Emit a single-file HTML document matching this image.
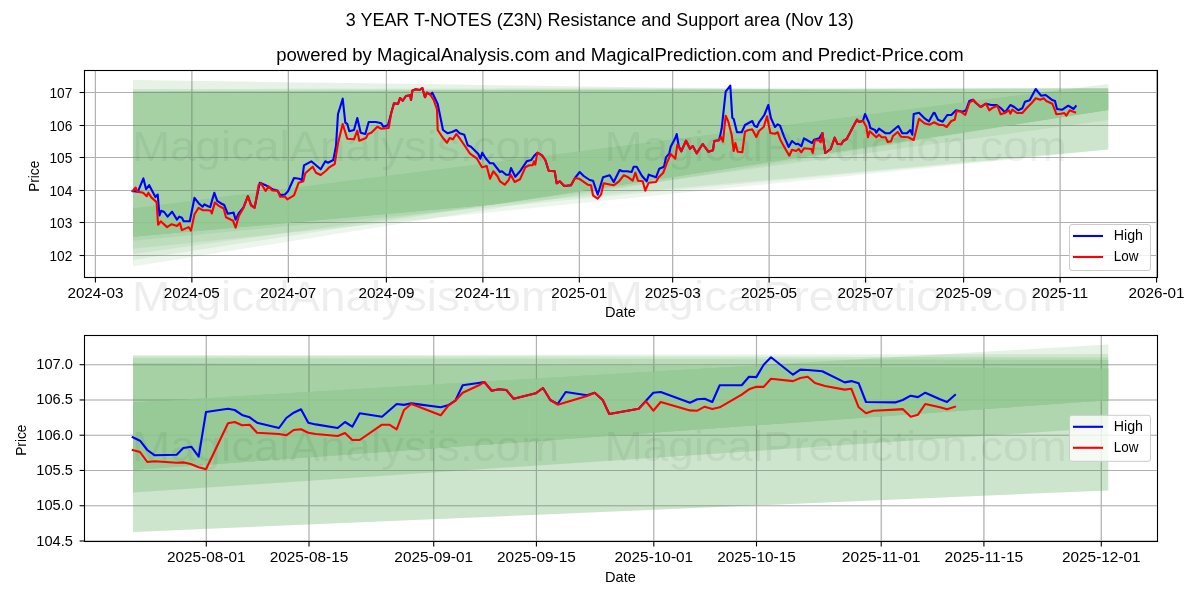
<!DOCTYPE html><html><head><meta charset="utf-8"><style>html,body{margin:0;padding:0;background:#fff;width:1200px;height:600px;overflow:hidden}svg{display:block;will-change:transform}text{font-family:"Liberation Sans",sans-serif;fill:#000}</style></head><body>
<svg width="1200" height="600" viewBox="0 0 1200 600">
<rect width="1200" height="600" fill="#fff"/>
<text x="345.80" y="25.80" font-size="18.3" text-anchor="start" textLength="508.0" lengthAdjust="spacingAndGlyphs">3 YEAR T-NOTES (Z3N) Resistance and Support area (Nov 13)</text>
<text x="276.25" y="61.25" font-size="18.3" text-anchor="start" textLength="687.5" lengthAdjust="spacingAndGlyphs">powered by MagicalAnalysis.com and MagicalPrediction.com and Predict-Price.com</text>
<clipPath id="ct"><rect x="84.5" y="70.5" width="1073.0" height="207.0"/></clipPath>
<g clip-path="url(#ct)">
<line x1="84.5" x2="1157.5" y1="255.5" y2="255.5" stroke="#b0b0b0" stroke-width="1.1"/>
<line x1="84.5" x2="1157.5" y1="222.5" y2="222.5" stroke="#b0b0b0" stroke-width="1.1"/>
<line x1="84.5" x2="1157.5" y1="190.5" y2="190.5" stroke="#b0b0b0" stroke-width="1.1"/>
<line x1="84.5" x2="1157.5" y1="157.5" y2="157.5" stroke="#b0b0b0" stroke-width="1.1"/>
<line x1="84.5" x2="1157.5" y1="125.5" y2="125.5" stroke="#b0b0b0" stroke-width="1.1"/>
<line x1="84.5" x2="1157.5" y1="92.5" y2="92.5" stroke="#b0b0b0" stroke-width="1.1"/>
<line x1="95.40" x2="95.40" y1="70.5" y2="277.5" stroke="#b0b0b0" stroke-width="1.1"/>
<line x1="191.87" x2="191.87" y1="70.5" y2="277.5" stroke="#b0b0b0" stroke-width="1.1"/>
<line x1="288.34" x2="288.34" y1="70.5" y2="277.5" stroke="#b0b0b0" stroke-width="1.1"/>
<line x1="386.40" x2="386.40" y1="70.5" y2="277.5" stroke="#b0b0b0" stroke-width="1.1"/>
<line x1="482.87" x2="482.87" y1="70.5" y2="277.5" stroke="#b0b0b0" stroke-width="1.1"/>
<line x1="579.34" x2="579.34" y1="70.5" y2="277.5" stroke="#b0b0b0" stroke-width="1.1"/>
<line x1="672.65" x2="672.65" y1="70.5" y2="277.5" stroke="#b0b0b0" stroke-width="1.1"/>
<line x1="769.12" x2="769.12" y1="70.5" y2="277.5" stroke="#b0b0b0" stroke-width="1.1"/>
<line x1="865.59" x2="865.59" y1="70.5" y2="277.5" stroke="#b0b0b0" stroke-width="1.1"/>
<line x1="963.64" x2="963.64" y1="70.5" y2="277.5" stroke="#b0b0b0" stroke-width="1.1"/>
<line x1="1060.12" x2="1060.12" y1="70.5" y2="277.5" stroke="#b0b0b0" stroke-width="1.1"/>
<line x1="1156.59" x2="1156.59" y1="70.5" y2="277.5" stroke="#b0b0b0" stroke-width="1.1"/>
<polygon points="133.0,80.00 281.5,82.13 349.9,83.11 436.0,84.35 436.1,84.35 453.1,84.60 493.5,85.18 494.9,85.19 498.7,85.25 518.3,85.53 552.4,86.02 674.8,87.78 1108.3,94.00 1108.3,110.00 674.8,176.67 552.4,195.50 518.3,200.74 498.7,203.75 494.9,204.28 493.5,204.47 453.1,208.08 436.1,209.60 436.0,209.61 349.9,217.30 281.5,223.42 133.0,236.70" fill="#008000" fill-opacity="0.1"/>
<polygon points="133.0,89.00 281.5,88.85 349.9,88.78 436.0,88.69 436.1,88.69 453.1,88.67 493.5,88.63 494.9,88.63 498.7,88.62 518.3,88.60 552.4,88.57 674.8,88.44 1108.3,88.00 1108.3,110.00 674.8,176.67 552.4,195.50 518.3,200.74 498.7,203.75 494.9,204.28 493.5,204.47 453.1,208.08 436.1,209.60 436.0,209.61 349.9,217.30 281.5,223.42 133.0,236.70" fill="#008000" fill-opacity="0.1"/>
<polygon points="133.0,91.20 281.5,90.74 349.9,90.53 436.0,90.27 436.1,90.27 453.1,90.22 493.5,90.09 494.9,90.09 498.7,90.08 518.3,90.01 552.4,89.91 674.8,89.53 1108.3,88.20 1108.3,110.00 674.8,176.67 552.4,195.50 518.3,200.74 498.7,203.75 494.9,204.28 493.5,204.47 453.1,208.08 436.1,209.60 436.0,209.61 349.9,217.30 281.5,223.42 133.0,236.70" fill="#008000" fill-opacity="0.1"/>
<polygon points="133.0,91.50 281.5,91.04 349.9,90.83 436.0,90.57 436.1,90.57 453.1,90.52 493.5,90.39 494.9,90.39 498.7,90.38 518.3,90.31 552.4,90.21 674.8,89.83 1108.3,88.50 1108.3,110.00 674.8,176.67 552.4,195.50 518.3,200.74 498.7,203.75 494.9,204.28 493.5,204.47 453.1,208.08 436.1,209.60 436.0,209.61 349.9,217.30 281.5,223.42 133.0,236.70" fill="#008000" fill-opacity="0.1"/>
<polygon points="133.0,208.50 281.5,189.54 349.9,180.81 436.0,169.82 436.1,169.81 453.1,167.64 493.5,162.48 494.9,162.31 498.7,161.81 518.3,159.31 552.4,154.96 674.8,139.33 1108.3,84.00 1108.3,110.00 674.8,176.67 552.4,195.50 518.3,200.74 498.7,203.75 494.9,204.28 493.5,204.47 453.1,208.08 436.1,209.60 436.0,209.61 349.9,217.30 281.5,223.42 133.0,236.70" fill="#008000" fill-opacity="0.1"/>
<polygon points="133.0,236.70 281.5,223.42 349.9,217.30 436.0,209.61 436.1,209.60 453.1,208.08 493.5,204.47 494.9,204.28 498.7,203.75 518.3,200.74 552.4,195.50 674.8,176.67 1108.3,110.00 1108.3,110.00 674.8,179.56 552.4,196.38 518.3,201.06 498.7,203.75 494.9,204.35 493.5,204.47 453.1,210.02 436.1,212.36 436.0,212.37 349.9,220.41 281.5,226.81 133.0,240.70" fill="#008000" fill-opacity="0.07"/>
<polygon points="133.0,236.70 281.5,223.42 349.9,217.30 436.0,209.61 436.1,209.60 453.1,208.08 493.5,204.47 494.9,204.28 498.7,203.75 518.3,200.74 552.4,195.50 674.8,176.67 1108.3,110.00 1108.3,120.00 674.8,179.56 552.4,199.20 518.3,202.25 498.7,204.00 494.9,204.35 493.5,204.55 453.1,210.77 436.1,212.36 436.0,212.37 349.9,224.19 281.5,233.59 133.0,248.70" fill="#008000" fill-opacity="0.07"/>
<polygon points="133.0,236.70 281.5,223.42 349.9,217.30 436.0,209.61 436.1,209.60 453.1,208.08 493.5,204.47 494.9,204.28 498.7,203.75 518.3,200.74 552.4,195.50 674.8,176.67 1108.3,110.00 1108.3,149.50 674.8,188.26 552.4,199.20 518.3,204.67 498.7,206.50 494.9,206.86 493.5,206.99 453.1,210.77 436.1,213.39 436.0,213.40 349.9,226.63 281.5,233.59 133.0,254.00" fill="#008000" fill-opacity="0.07"/>
<polygon points="133.0,236.70 281.5,223.42 349.9,217.30 436.0,209.61 436.1,209.60 453.1,208.08 493.5,204.47 494.9,204.28 498.7,203.75 518.3,200.74 552.4,195.50 674.8,176.67 1108.3,110.00 1108.3,149.50 674.8,190.03 552.4,201.48 518.3,204.67 498.7,207.81 494.9,208.44 493.5,208.65 453.1,215.13 436.1,217.87 436.0,217.88 349.9,226.63 281.5,237.16 133.0,260.00" fill="#008000" fill-opacity="0.07"/>
<polygon points="133.0,236.70 281.5,223.42 349.9,217.30 436.0,209.61 436.1,209.60 453.1,208.08 493.5,204.47 494.9,204.28 498.7,203.75 518.3,200.74 552.4,195.50 674.8,176.67 1108.3,110.00 1108.3,149.50 674.8,193.59 552.4,206.04 518.3,209.51 498.7,211.50 494.9,211.89 493.5,212.03 453.1,216.14 436.1,217.87 436.0,217.88 349.9,231.69 281.5,242.67 133.0,266.50" fill="#008000" fill-opacity="0.07"/>
<line x1="84.5" x2="1157.5" y1="255.5" y2="255.5" stroke="#b0b0b0" stroke-opacity="0.3" stroke-width="1.1"/>
<line x1="84.5" x2="1157.5" y1="222.5" y2="222.5" stroke="#b0b0b0" stroke-opacity="0.3" stroke-width="1.1"/>
<line x1="84.5" x2="1157.5" y1="190.5" y2="190.5" stroke="#b0b0b0" stroke-opacity="0.3" stroke-width="1.1"/>
<line x1="84.5" x2="1157.5" y1="157.5" y2="157.5" stroke="#b0b0b0" stroke-opacity="0.3" stroke-width="1.1"/>
<line x1="84.5" x2="1157.5" y1="125.5" y2="125.5" stroke="#b0b0b0" stroke-opacity="0.3" stroke-width="1.1"/>
<line x1="84.5" x2="1157.5" y1="92.5" y2="92.5" stroke="#b0b0b0" stroke-opacity="0.3" stroke-width="1.1"/>
<line x1="95.40" x2="95.40" y1="70.5" y2="277.5" stroke="#b0b0b0" stroke-opacity="0.3" stroke-width="1.1"/>
<line x1="191.87" x2="191.87" y1="70.5" y2="277.5" stroke="#b0b0b0" stroke-opacity="0.3" stroke-width="1.1"/>
<line x1="288.34" x2="288.34" y1="70.5" y2="277.5" stroke="#b0b0b0" stroke-opacity="0.3" stroke-width="1.1"/>
<line x1="386.40" x2="386.40" y1="70.5" y2="277.5" stroke="#b0b0b0" stroke-opacity="0.3" stroke-width="1.1"/>
<line x1="482.87" x2="482.87" y1="70.5" y2="277.5" stroke="#b0b0b0" stroke-opacity="0.3" stroke-width="1.1"/>
<line x1="579.34" x2="579.34" y1="70.5" y2="277.5" stroke="#b0b0b0" stroke-opacity="0.3" stroke-width="1.1"/>
<line x1="672.65" x2="672.65" y1="70.5" y2="277.5" stroke="#b0b0b0" stroke-opacity="0.3" stroke-width="1.1"/>
<line x1="769.12" x2="769.12" y1="70.5" y2="277.5" stroke="#b0b0b0" stroke-opacity="0.3" stroke-width="1.1"/>
<line x1="865.59" x2="865.59" y1="70.5" y2="277.5" stroke="#b0b0b0" stroke-opacity="0.3" stroke-width="1.1"/>
<line x1="963.64" x2="963.64" y1="70.5" y2="277.5" stroke="#b0b0b0" stroke-opacity="0.3" stroke-width="1.1"/>
<line x1="1060.12" x2="1060.12" y1="70.5" y2="277.5" stroke="#b0b0b0" stroke-opacity="0.3" stroke-width="1.1"/>
<line x1="1156.59" x2="1156.59" y1="70.5" y2="277.5" stroke="#b0b0b0" stroke-opacity="0.3" stroke-width="1.1"/>
<polygon points="133.0,208.50 281.5,189.54 349.9,180.81 436.0,169.82 436.1,169.81 453.1,167.64 493.5,162.48 494.9,162.31 498.7,161.81 518.3,159.31 552.4,154.96 674.8,139.33 718.2,133.80 775.6,126.48 792.8,124.28 1037.9,92.99 1072.2,93.48 1074.6,93.52 1076.7,93.55 1108.3,94.00 1108.3,110.00 1076.7,114.86 1074.6,115.19 1072.2,115.56 1037.9,120.83 792.8,158.53 775.6,161.18 718.2,170.00 674.8,176.67 552.4,195.50 518.3,200.74 498.7,203.75 494.9,204.28 493.5,204.47 453.1,208.08 436.1,209.60 436.0,209.61 349.9,217.30 281.5,223.42 133.0,236.70" fill="#97cb97" fill-opacity="0.8"/>
<text x="132.00" y="160.80" font-size="43" text-anchor="start" textLength="427.0" lengthAdjust="spacingAndGlyphs" fill-opacity="0.05" style="fill:#000">MagicalAnalysis.com</text>
<text x="604.50" y="160.80" font-size="43" text-anchor="start" textLength="462.4" lengthAdjust="spacingAndGlyphs" fill-opacity="0.05" style="fill:#000">MagicalPrediction.com</text>
<polyline points="132.7,191 137.9,191.6 143.4,178.4 146.1,189.2 149.2,185.2 155.4,197.1 157.7,194.5 159.5,215.5 161.2,210.8 164.2,212 167.6,216.6 172.1,211.7 177,219.6 179.3,216.6 181.9,217.8 183.7,221.3 189.8,221.3 194.5,197.8 198.6,203.2 202.6,206.7 204.4,204.4 208,206.2 210.2,207.1 214.3,192.7 217.2,200.9 220.7,203.2 224.2,205 227.7,213.7 233.6,212.6 235.6,219.6 238.8,213.1 243.5,207.3 247.9,196.2 251.1,205 254.6,207.6 259.8,182.8 265.6,185.2 272.6,189.2 277.3,190.4 280.2,195.1 285,194.5 288,191.3 294,178 299.3,178.7 302,180 304,165.3 311.3,161.3 320.7,169.3 325.3,161.3 328,162.7 333.3,160 336,146 338,114 342.7,98.7 345.3,122.7 347.3,124 349.3,131.3 354,130 357.3,118 360.7,132.7 365.3,134 368.7,122 376,122 381.3,123.3 383.3,126.7 388,125.3 391.3,112.7 394,103.3 398,104 400,98 402.7,100.7 406,96 410.3,95.3 411,100 412.3,90.7 415.7,89.3 419.7,90 422.3,88 425,97.3 427,92.7 430.3,94.7 432.3,92.7 437.7,104 443,130 447.7,133.3 452,132 456.3,130 459.7,133.3 464.3,134.7 467.7,145.3 471,146.7 478.3,154 480.3,158.7 482.3,152.7 486,158.7 490,163.3 493.3,163.3 500,172 502,171.3 506,174.7 509.3,174.7 511,168 515.3,176.7 520,171.3 526.7,161.3 531.3,160 534,156 537.3,152.7 542,155.3 545.3,160 548.7,170.7 554.7,171.3 556.7,183.3 559.7,181.3 564.3,186 571,185.3 575,178 579.7,172 583.7,176 589.7,180 593,180.7 597.7,194.7 603,177.3 609.7,175.3 613.7,182 619.7,170 622.3,171.3 627,171.3 631.7,172 633.7,166.7 636.7,166.7 642,176 646.7,181.3 648.7,174.7 656,177.3 659.3,168.7 664,166.7 666,157.3 669.3,153.3 670.7,146.7 675.3,138 676.7,134 678.7,146 681.3,151.3 686,140.7 690,148.7 692.7,146 696.7,153.3 702.7,144 708.3,151.7 713,150.3 714.3,141 719,140.3 720.3,135 721.7,128.3 725.7,91.7 730.3,85.7 732.3,117.7 733.7,119 737,132.3 741.7,132.3 745,125 752.3,121 754.3,125.7 757,127 759,122.3 764.3,115 768.3,105 771,118.3 775,127 777.7,124.3 780,125.7 784,136.3 788.7,147 792,141 796,144.3 798,143.7 801.3,146.3 804,138.3 812,143 814,139.7 819.3,138.3 822.4,133 825.3,153 830.7,149 834.7,137.7 837.3,143.7 841.3,144.3 843.3,141 846.7,139 854.7,123.7 857,119.7 859,122 863,120.7 865,114 869,122.7 870.3,128 875,130 876.3,132.7 879,128.7 885.7,133.3 889.7,133.3 895,128.7 898.3,126 902.3,133.3 907,133.3 910.3,130 912.3,134.7 913.7,114 919,112.7 925,118.7 929,121.3 933.7,112.7 934.7,113 938,119.7 942.7,121.7 947.3,115 951.3,115 956,110.3 962.7,111.7 966,110.3 969.3,101 972.7,99.7 976,103 980.7,107 986,103.7 991.3,105 996.7,105 1000.7,108 1005,112.3 1010.3,105 1014.3,107 1018.3,110.3 1022.3,108.3 1025,101.7 1029.7,100.3 1035.7,89 1041,95.7 1045.7,95 1051.7,99.7 1055,101 1057,109 1062.3,109.7 1068.3,105.7 1073.7,109 1075.7,106.3" fill="none" stroke="#0000ff" stroke-width="2.1" stroke-linejoin="round" stroke-linecap="square"/>
<polyline points="132.7,191 135.6,187.5 137.3,191.6 143.2,192.7 146.7,196.2 148.4,192.7 151.3,197.4 156.6,202.1 158.1,224.8 160.7,221.3 167.1,227.1 171.7,224.2 177,226 179.9,223.1 181.9,230.1 188.6,227.1 191,230.6 194.5,214.3 198.6,207.9 202.6,210.2 208,210.2 210.8,210.8 211.8,213.4 214.9,202.4 218.4,205.6 223.7,208.5 226,217.2 233,220.7 235.6,227.7 238.8,216.1 243.5,207.9 247.9,196.2 251.1,205.6 254.6,207.9 258.6,185.2 261,183.4 265.6,191 268.6,186.3 272.1,190.4 277.9,190.8 280.2,196.8 285,196.8 287.3,199.3 294,195.3 298.7,182.7 303.3,181.3 305.3,173.3 312.7,166.7 316,172.7 320.7,175 326,170.7 329.3,167.3 334.7,164 338,143.3 342.7,124 347.3,138.7 354,139.3 357.3,130.7 359.3,140.7 366,138 368,134 371.3,132.7 377.3,126.7 381.3,128.7 388.7,128 391.3,112.7 394,103.3 398,104 400,98 402.7,100.7 406,96 410.3,95.3 411,100 412.3,90.7 415.7,89.3 419.7,90 422.3,88 425,97.3 427,92.7 430.3,94.7 433.7,100 437,109.3 437.7,130 443,138 447,142.7 449.7,138 453,139.3 456.3,134 459,137.3 466.3,148 469.7,153.3 477,158.7 482,167.3 486.7,166 490,178.7 493.3,171.3 497.3,176 500,181.3 504.7,184.7 508.7,180 510.7,174.7 514.7,182 520,179.3 525.3,167.3 529.3,165.3 532.7,165.3 534,161.3 535.3,164.7 537.3,152.7 542,155.3 545.3,160 548.7,170.7 554.7,171.3 556.7,183.3 559.7,181.3 564.3,186 571,185.3 575,178 579,178.7 587.7,184.7 591,185.3 593,195.3 597.7,198.7 601,194.7 603.7,183.3 611,184.7 613.7,185.3 619,181.3 623.7,175.3 628.3,177.3 632.7,180.7 635.3,172.7 638,180.7 642.7,181.3 645.3,190.7 648.7,182.7 656,182 658.7,177.3 663.3,172.7 666.7,163.3 670.7,154 675.3,158.7 677.3,144.7 681.3,151.3 686,140.7 690,148.7 692.7,146 696.7,153.3 702.7,144 708.3,151.7 713,150.3 714.3,141 719,140.3 721,137 723,141.7 725.7,115.7 728.3,121.7 731.7,135 733.7,151 735.4,143 737.7,151.7 742.3,152.3 745,131.7 747.7,130.3 752.3,129.4 756.3,137 759,131 763.7,127 767,116.3 770.3,133 775,133.7 777.7,132.3 780.3,139.7 784.7,147.7 789.3,155.7 792,149.7 796,151 798.7,149 801.3,152.3 804,148.3 811.3,149 812.7,153 814.7,140.3 818.7,140.3 820.7,142.3 822.4,133 825.3,153 830.7,149 834.7,137.7 837.3,143.7 841.3,144.3 843.3,141 846.7,139 854.7,123.7 857,119.7 859,122 863,120.7 866.3,126.7 868,137.3 869.7,131.3 876.3,137.3 879,134.7 881.7,137.3 885.7,137.3 887.7,142 891,141.3 893,136 897.7,132 901,136.7 908.3,137.3 913.7,140 919,118.7 924.3,123.3 929.7,124.7 934,122.3 939.3,125 943.3,125 946.7,127 951.3,121 954.7,119.7 956.7,111 960.7,111.7 965.3,115 969.3,103 973.3,99.7 976,103 980.7,107 986,103.7 989.3,110.3 992.7,107.7 997.3,105.7 1000.7,114.3 1004.7,113 1009,110.3 1010.3,113.7 1012.3,109.7 1017,113 1022.3,113 1027,107.7 1031.7,103 1035.7,98.3 1040.3,99.7 1043.7,98.3 1046.3,101 1052.3,103.7 1055,110.3 1056.3,114.3 1061,113.7 1064.3,113 1066.3,115.7 1069.7,110.3 1075,112.3" fill="none" stroke="#ff0000" stroke-width="2.1" stroke-linejoin="round" stroke-linecap="square"/>
</g>
<rect x="1069.5" y="224.5" width="81" height="46" rx="2.5" fill="#fff" fill-opacity="0.8" stroke="#cccccc" stroke-width="1"/>
<line x1="1073" x2="1103" y1="236.0" y2="236.0" stroke="#0000ff" stroke-width="2.1"/>
<line x1="1073" x2="1103" y1="257.0" y2="257.0" stroke="#ff0000" stroke-width="2.1"/>
<text x="1113.80" y="239.70" font-size="14.5" text-anchor="start" textLength="29.2" lengthAdjust="spacingAndGlyphs">High</text>
<text x="1113.80" y="260.80" font-size="14.5" text-anchor="start" textLength="24.7" lengthAdjust="spacingAndGlyphs">Low</text>
<rect x="84.5" y="70.5" width="1073.0" height="207.0" fill="none" stroke="#000" stroke-width="1.1"/>
<line x1="79.6" x2="84.5" y1="255.5" y2="255.5" stroke="#000" stroke-width="1.1"/>
<text x="72.30" y="260.70" font-size="14.5" text-anchor="end" textLength="22.9" lengthAdjust="spacingAndGlyphs">102</text>
<line x1="79.6" x2="84.5" y1="222.5" y2="222.5" stroke="#000" stroke-width="1.1"/>
<text x="72.30" y="227.70" font-size="14.5" text-anchor="end" textLength="22.9" lengthAdjust="spacingAndGlyphs">103</text>
<line x1="79.6" x2="84.5" y1="190.5" y2="190.5" stroke="#000" stroke-width="1.1"/>
<text x="72.30" y="195.70" font-size="14.5" text-anchor="end" textLength="22.9" lengthAdjust="spacingAndGlyphs">104</text>
<line x1="79.6" x2="84.5" y1="157.5" y2="157.5" stroke="#000" stroke-width="1.1"/>
<text x="72.30" y="162.70" font-size="14.5" text-anchor="end" textLength="22.9" lengthAdjust="spacingAndGlyphs">105</text>
<line x1="79.6" x2="84.5" y1="125.5" y2="125.5" stroke="#000" stroke-width="1.1"/>
<text x="72.30" y="130.70" font-size="14.5" text-anchor="end" textLength="22.9" lengthAdjust="spacingAndGlyphs">106</text>
<line x1="79.6" x2="84.5" y1="92.5" y2="92.5" stroke="#000" stroke-width="1.1"/>
<text x="72.30" y="97.70" font-size="14.5" text-anchor="end" textLength="22.9" lengthAdjust="spacingAndGlyphs">107</text>
<line x1="95.40" x2="95.40" y1="277.5" y2="282.4" stroke="#000" stroke-width="1.1"/>
<text x="95.40" y="297.80" font-size="14.5" text-anchor="middle" textLength="56.0" lengthAdjust="spacingAndGlyphs">2024-03</text>
<line x1="191.87" x2="191.87" y1="277.5" y2="282.4" stroke="#000" stroke-width="1.1"/>
<text x="191.87" y="297.80" font-size="14.5" text-anchor="middle" textLength="56.0" lengthAdjust="spacingAndGlyphs">2024-05</text>
<line x1="288.34" x2="288.34" y1="277.5" y2="282.4" stroke="#000" stroke-width="1.1"/>
<text x="288.34" y="297.80" font-size="14.5" text-anchor="middle" textLength="56.0" lengthAdjust="spacingAndGlyphs">2024-07</text>
<line x1="386.40" x2="386.40" y1="277.5" y2="282.4" stroke="#000" stroke-width="1.1"/>
<text x="386.40" y="297.80" font-size="14.5" text-anchor="middle" textLength="56.0" lengthAdjust="spacingAndGlyphs">2024-09</text>
<line x1="482.87" x2="482.87" y1="277.5" y2="282.4" stroke="#000" stroke-width="1.1"/>
<text x="482.87" y="297.80" font-size="14.5" text-anchor="middle" textLength="56.0" lengthAdjust="spacingAndGlyphs">2024-11</text>
<line x1="579.34" x2="579.34" y1="277.5" y2="282.4" stroke="#000" stroke-width="1.1"/>
<text x="579.34" y="297.80" font-size="14.5" text-anchor="middle" textLength="56.0" lengthAdjust="spacingAndGlyphs">2025-01</text>
<line x1="672.65" x2="672.65" y1="277.5" y2="282.4" stroke="#000" stroke-width="1.1"/>
<text x="672.65" y="297.80" font-size="14.5" text-anchor="middle" textLength="56.0" lengthAdjust="spacingAndGlyphs">2025-03</text>
<line x1="769.12" x2="769.12" y1="277.5" y2="282.4" stroke="#000" stroke-width="1.1"/>
<text x="769.12" y="297.80" font-size="14.5" text-anchor="middle" textLength="56.0" lengthAdjust="spacingAndGlyphs">2025-05</text>
<line x1="865.59" x2="865.59" y1="277.5" y2="282.4" stroke="#000" stroke-width="1.1"/>
<text x="865.59" y="297.80" font-size="14.5" text-anchor="middle" textLength="56.0" lengthAdjust="spacingAndGlyphs">2025-07</text>
<line x1="963.64" x2="963.64" y1="277.5" y2="282.4" stroke="#000" stroke-width="1.1"/>
<text x="963.64" y="297.80" font-size="14.5" text-anchor="middle" textLength="56.0" lengthAdjust="spacingAndGlyphs">2025-09</text>
<line x1="1060.12" x2="1060.12" y1="277.5" y2="282.4" stroke="#000" stroke-width="1.1"/>
<text x="1060.12" y="297.80" font-size="14.5" text-anchor="middle" textLength="56.0" lengthAdjust="spacingAndGlyphs">2025-11</text>
<line x1="1156.59" x2="1156.59" y1="277.5" y2="282.4" stroke="#000" stroke-width="1.1"/>
<text x="1156.59" y="297.80" font-size="14.5" text-anchor="middle" textLength="56.0" lengthAdjust="spacingAndGlyphs">2026-01</text>
<text transform="translate(39.3,176.25) rotate(-90)" x="0" y="0" font-size="14.5" text-anchor="middle" textLength="31" lengthAdjust="spacingAndGlyphs">Price</text>
<text x="620.40" y="316.75" font-size="14.5" text-anchor="middle" textLength="30.8" lengthAdjust="spacingAndGlyphs">Date</text>
<clipPath id="cb"><rect x="84.5" y="335.5" width="1073.0" height="206.0"/></clipPath>
<g clip-path="url(#cb)">
<line x1="84.5" x2="1157.5" y1="364.7" y2="364.7" stroke="#b0b0b0" stroke-width="1.1"/>
<line x1="84.5" x2="1157.5" y1="399.96" y2="399.96" stroke="#b0b0b0" stroke-width="1.1"/>
<line x1="84.5" x2="1157.5" y1="435.21999999999997" y2="435.21999999999997" stroke="#b0b0b0" stroke-width="1.1"/>
<line x1="84.5" x2="1157.5" y1="470.48" y2="470.48" stroke="#b0b0b0" stroke-width="1.1"/>
<line x1="84.5" x2="1157.5" y1="505.74" y2="505.74" stroke="#b0b0b0" stroke-width="1.1"/>
<line x1="84.5" x2="1157.5" y1="541.0" y2="541.0" stroke="#b0b0b0" stroke-width="1.1"/>
<line x1="206.30" x2="206.30" y1="335.5" y2="541.5" stroke="#b0b0b0" stroke-width="1.1"/>
<line x1="309.00" x2="309.00" y1="335.5" y2="541.5" stroke="#b0b0b0" stroke-width="1.1"/>
<line x1="433.72" x2="433.72" y1="335.5" y2="541.5" stroke="#b0b0b0" stroke-width="1.1"/>
<line x1="536.42" x2="536.42" y1="335.5" y2="541.5" stroke="#b0b0b0" stroke-width="1.1"/>
<line x1="653.80" x2="653.80" y1="335.5" y2="541.5" stroke="#b0b0b0" stroke-width="1.1"/>
<line x1="756.50" x2="756.50" y1="335.5" y2="541.5" stroke="#b0b0b0" stroke-width="1.1"/>
<line x1="881.21" x2="881.21" y1="335.5" y2="541.5" stroke="#b0b0b0" stroke-width="1.1"/>
<line x1="983.92" x2="983.92" y1="335.5" y2="541.5" stroke="#b0b0b0" stroke-width="1.1"/>
<line x1="1101.29" x2="1101.29" y1="335.5" y2="541.5" stroke="#b0b0b0" stroke-width="1.1"/>
<polygon points="133.0,355.40 1108.3,354.00 1108.3,400.20 133.0,470.00" fill="#008000" fill-opacity="0.1"/>
<polygon points="133.0,355.40 1108.3,357.50 1108.3,400.20 133.0,470.00" fill="#008000" fill-opacity="0.1"/>
<polygon points="133.0,358.00 1108.3,360.00 1108.3,400.20 133.0,470.00" fill="#008000" fill-opacity="0.1"/>
<polygon points="133.0,363.00 1108.3,368.50 1108.3,400.20 133.0,470.00" fill="#008000" fill-opacity="0.1"/>
<polygon points="133.0,402.50 1108.3,344.50 1108.3,400.20 133.0,470.00" fill="#008000" fill-opacity="0.1"/>
<polygon points="133.0,470.00 1108.3,400.20 1108.3,427.50 133.0,492.50" fill="#008000" fill-opacity="0.07"/>
<polygon points="133.0,470.00 1108.3,400.20 1108.3,427.50 133.0,492.50" fill="#008000" fill-opacity="0.07"/>
<polygon points="133.0,470.00 1108.3,400.20 1108.3,490.40 133.0,532.00" fill="#008000" fill-opacity="0.07"/>
<polygon points="133.0,470.00 1108.3,400.20 1108.3,490.40 133.0,532.00" fill="#008000" fill-opacity="0.07"/>
<polygon points="133.0,470.00 1108.3,400.20 1108.3,490.40 133.0,532.00" fill="#008000" fill-opacity="0.07"/>
<line x1="84.5" x2="1157.5" y1="364.7" y2="364.7" stroke="#b0b0b0" stroke-opacity="0.3" stroke-width="1.1"/>
<line x1="84.5" x2="1157.5" y1="399.96" y2="399.96" stroke="#b0b0b0" stroke-opacity="0.3" stroke-width="1.1"/>
<line x1="84.5" x2="1157.5" y1="435.21999999999997" y2="435.21999999999997" stroke="#b0b0b0" stroke-opacity="0.3" stroke-width="1.1"/>
<line x1="84.5" x2="1157.5" y1="470.48" y2="470.48" stroke="#b0b0b0" stroke-opacity="0.3" stroke-width="1.1"/>
<line x1="84.5" x2="1157.5" y1="505.74" y2="505.74" stroke="#b0b0b0" stroke-opacity="0.3" stroke-width="1.1"/>
<line x1="84.5" x2="1157.5" y1="541.0" y2="541.0" stroke="#b0b0b0" stroke-opacity="0.3" stroke-width="1.1"/>
<line x1="206.30" x2="206.30" y1="335.5" y2="541.5" stroke="#b0b0b0" stroke-opacity="0.3" stroke-width="1.1"/>
<line x1="309.00" x2="309.00" y1="335.5" y2="541.5" stroke="#b0b0b0" stroke-opacity="0.3" stroke-width="1.1"/>
<line x1="433.72" x2="433.72" y1="335.5" y2="541.5" stroke="#b0b0b0" stroke-opacity="0.3" stroke-width="1.1"/>
<line x1="536.42" x2="536.42" y1="335.5" y2="541.5" stroke="#b0b0b0" stroke-opacity="0.3" stroke-width="1.1"/>
<line x1="653.80" x2="653.80" y1="335.5" y2="541.5" stroke="#b0b0b0" stroke-opacity="0.3" stroke-width="1.1"/>
<line x1="756.50" x2="756.50" y1="335.5" y2="541.5" stroke="#b0b0b0" stroke-opacity="0.3" stroke-width="1.1"/>
<line x1="881.21" x2="881.21" y1="335.5" y2="541.5" stroke="#b0b0b0" stroke-opacity="0.3" stroke-width="1.1"/>
<line x1="983.92" x2="983.92" y1="335.5" y2="541.5" stroke="#b0b0b0" stroke-opacity="0.3" stroke-width="1.1"/>
<line x1="1101.29" x2="1101.29" y1="335.5" y2="541.5" stroke="#b0b0b0" stroke-opacity="0.3" stroke-width="1.1"/>
<polygon points="133.0,402.50 739.7,366.42 856.3,367.08 897.3,367.31 944.6,367.58 1108.3,368.50 1108.3,400.20 944.6,411.92 897.3,415.30 856.3,418.23 739.7,426.58 133.0,470.00" fill="#97cb97" fill-opacity="0.8"/>
<text x="132.00" y="461.30" font-size="43" text-anchor="start" textLength="427.0" lengthAdjust="spacingAndGlyphs" fill-opacity="0.05" style="fill:#000">MagicalAnalysis.com</text>
<text x="604.50" y="461.30" font-size="43" text-anchor="start" textLength="462.4" lengthAdjust="spacingAndGlyphs" fill-opacity="0.05" style="fill:#000">MagicalPrediction.com</text>
<polyline points="132.7,437.3 140,440.7 147.3,450 154.7,455.3 176.7,454.7 183.3,448 191.3,446.7 198.7,456.7 206,412 228,408.7 234.7,410 242.7,415.3 249.7,417.3 257,422.7 279,428 286.3,418 293.7,412.7 301,409.3 308.3,422.7 315.7,424.4 337.7,428 345,422 352.3,426.7 359.7,413.3 382,416.7 396.7,404 404,404.9 411.3,403.3 418.7,404.4 440.7,407.3 448,405.3 455.3,400.7 462.7,385.3 480,382.7 484.3,382 491.7,390.7 499,389.3 506.3,390 513.7,398.7 535.7,393.3 543,388 550.3,400 557.7,404 565.7,392 587,395.3 594.7,392.7 602.7,400 609.3,414 638.7,408.7 646,400.7 653.3,392.7 660.7,392 690,402.7 697.3,399.3 704.7,398.7 712.3,402 719.7,385.3 741.7,385.3 749,376.7 756.3,377.1 763.7,364.7 771,357.3 793,374.7 800.3,369.6 807.7,370 822.3,371.3 844.7,382.4 851.3,381.1 858.7,383.3 866,402 895.3,402.4 902.7,400 910.7,395.7 918,397.1 925.3,392.7 940,399.3 947,402 955,394.9" fill="none" stroke="#0000ff" stroke-width="2.1" stroke-linejoin="round" stroke-linecap="square"/>
<polyline points="132.7,450 140,452 147.3,462 154.7,461.3 176.7,462.7 184,462.4 190.7,464 198.7,467.3 206,469.3 228,423.3 234.7,422 242,425.3 249.7,424.7 257,432.7 279,434 286.3,435.3 293.7,430 301,429.3 308.3,432.7 315.7,434 337.7,436 345,433 352.3,440 359.7,440 382,424.7 389.3,424.7 396.7,429.3 404,410 411.3,404 418.7,406.7 440.7,415.3 448,406 455.3,400.7 462.7,392.7 480,384.7 484.3,382 491.7,390.7 499,389.3 506.3,390 513.7,398.7 535.7,393.3 543,388 550.3,400 557.7,404.7 587,396 594.7,392.7 602.7,400 609.3,414 638.7,408.7 646,401.3 653.3,410.7 660.7,402 690,410.4 697.3,410.7 704.7,406.7 712.3,409.1 719.7,407.3 741.7,394.7 749,389.3 756.3,386.7 763.7,386.9 771,378.7 793,381.1 800.3,378 807.7,376.7 815,383 825,386 844.7,389.6 851.3,388.7 858.7,407.3 866,413.3 873.3,410.7 895.3,409.6 902.7,409.1 910.7,416.7 918,414.7 925.3,404 940,407.3 947,409.3 955,406.7" fill="none" stroke="#ff0000" stroke-width="2.1" stroke-linejoin="round" stroke-linecap="square"/>
</g>
<rect x="1069.5" y="415.3" width="81" height="46" rx="2.5" fill="#fff" fill-opacity="0.8" stroke="#cccccc" stroke-width="1"/>
<line x1="1073" x2="1103" y1="426.8" y2="426.8" stroke="#0000ff" stroke-width="2.1"/>
<line x1="1073" x2="1103" y1="447.8" y2="447.8" stroke="#ff0000" stroke-width="2.1"/>
<text x="1113.80" y="430.50" font-size="14.5" text-anchor="start" textLength="29.2" lengthAdjust="spacingAndGlyphs">High</text>
<text x="1113.80" y="451.60" font-size="14.5" text-anchor="start" textLength="24.7" lengthAdjust="spacingAndGlyphs">Low</text>
<rect x="84.5" y="335.5" width="1073.0" height="206.0" fill="none" stroke="#000" stroke-width="1.1"/>
<line x1="79.6" x2="84.5" y1="364.70" y2="364.70" stroke="#000" stroke-width="1.1"/>
<text x="72.90" y="369.20" font-size="14.5" text-anchor="end" textLength="36.6" lengthAdjust="spacingAndGlyphs">107.0</text>
<line x1="79.6" x2="84.5" y1="399.96" y2="399.96" stroke="#000" stroke-width="1.1"/>
<text x="72.90" y="404.46" font-size="14.5" text-anchor="end" textLength="36.6" lengthAdjust="spacingAndGlyphs">106.5</text>
<line x1="79.6" x2="84.5" y1="435.22" y2="435.22" stroke="#000" stroke-width="1.1"/>
<text x="72.90" y="439.72" font-size="14.5" text-anchor="end" textLength="36.6" lengthAdjust="spacingAndGlyphs">106.0</text>
<line x1="79.6" x2="84.5" y1="470.48" y2="470.48" stroke="#000" stroke-width="1.1"/>
<text x="72.90" y="474.98" font-size="14.5" text-anchor="end" textLength="36.6" lengthAdjust="spacingAndGlyphs">105.5</text>
<line x1="79.6" x2="84.5" y1="505.74" y2="505.74" stroke="#000" stroke-width="1.1"/>
<text x="72.90" y="510.24" font-size="14.5" text-anchor="end" textLength="36.6" lengthAdjust="spacingAndGlyphs">105.0</text>
<line x1="79.6" x2="84.5" y1="541.00" y2="541.00" stroke="#000" stroke-width="1.1"/>
<text x="72.90" y="545.50" font-size="14.5" text-anchor="end" textLength="36.6" lengthAdjust="spacingAndGlyphs">104.5</text>
<line x1="206.30" x2="206.30" y1="541.5" y2="546.4" stroke="#000" stroke-width="1.1"/>
<text x="206.30" y="562.00" font-size="14.5" text-anchor="middle" textLength="78.7" lengthAdjust="spacingAndGlyphs">2025-08-01</text>
<line x1="309.00" x2="309.00" y1="541.5" y2="546.4" stroke="#000" stroke-width="1.1"/>
<text x="309.00" y="562.00" font-size="14.5" text-anchor="middle" textLength="78.7" lengthAdjust="spacingAndGlyphs">2025-08-15</text>
<line x1="433.72" x2="433.72" y1="541.5" y2="546.4" stroke="#000" stroke-width="1.1"/>
<text x="433.72" y="562.00" font-size="14.5" text-anchor="middle" textLength="78.7" lengthAdjust="spacingAndGlyphs">2025-09-01</text>
<line x1="536.42" x2="536.42" y1="541.5" y2="546.4" stroke="#000" stroke-width="1.1"/>
<text x="536.42" y="562.00" font-size="14.5" text-anchor="middle" textLength="78.7" lengthAdjust="spacingAndGlyphs">2025-09-15</text>
<line x1="653.80" x2="653.80" y1="541.5" y2="546.4" stroke="#000" stroke-width="1.1"/>
<text x="653.80" y="562.00" font-size="14.5" text-anchor="middle" textLength="78.7" lengthAdjust="spacingAndGlyphs">2025-10-01</text>
<line x1="756.50" x2="756.50" y1="541.5" y2="546.4" stroke="#000" stroke-width="1.1"/>
<text x="756.50" y="562.00" font-size="14.5" text-anchor="middle" textLength="78.7" lengthAdjust="spacingAndGlyphs">2025-10-15</text>
<line x1="881.21" x2="881.21" y1="541.5" y2="546.4" stroke="#000" stroke-width="1.1"/>
<text x="881.21" y="562.00" font-size="14.5" text-anchor="middle" textLength="78.7" lengthAdjust="spacingAndGlyphs">2025-11-01</text>
<line x1="983.92" x2="983.92" y1="541.5" y2="546.4" stroke="#000" stroke-width="1.1"/>
<text x="983.92" y="562.00" font-size="14.5" text-anchor="middle" textLength="78.7" lengthAdjust="spacingAndGlyphs">2025-11-15</text>
<line x1="1101.29" x2="1101.29" y1="541.5" y2="546.4" stroke="#000" stroke-width="1.1"/>
<text x="1101.29" y="562.00" font-size="14.5" text-anchor="middle" textLength="78.7" lengthAdjust="spacingAndGlyphs">2025-12-01</text>
<text transform="translate(26.25,440.2) rotate(-90)" x="0" y="0" font-size="14.5" text-anchor="middle" textLength="31.2" lengthAdjust="spacingAndGlyphs">Price</text>
<text x="620.40" y="581.75" font-size="14.5" text-anchor="middle" textLength="30.8" lengthAdjust="spacingAndGlyphs">Date</text>
<text x="132.00" y="311.30" font-size="43" text-anchor="start" textLength="427.0" lengthAdjust="spacingAndGlyphs" fill-opacity="0.065" style="fill:#000">MagicalAnalysis.com</text>
<text x="604.50" y="311.30" font-size="43" text-anchor="start" textLength="462.4" lengthAdjust="spacingAndGlyphs" fill-opacity="0.065" style="fill:#000">MagicalPrediction.com</text>
</svg></body></html>
